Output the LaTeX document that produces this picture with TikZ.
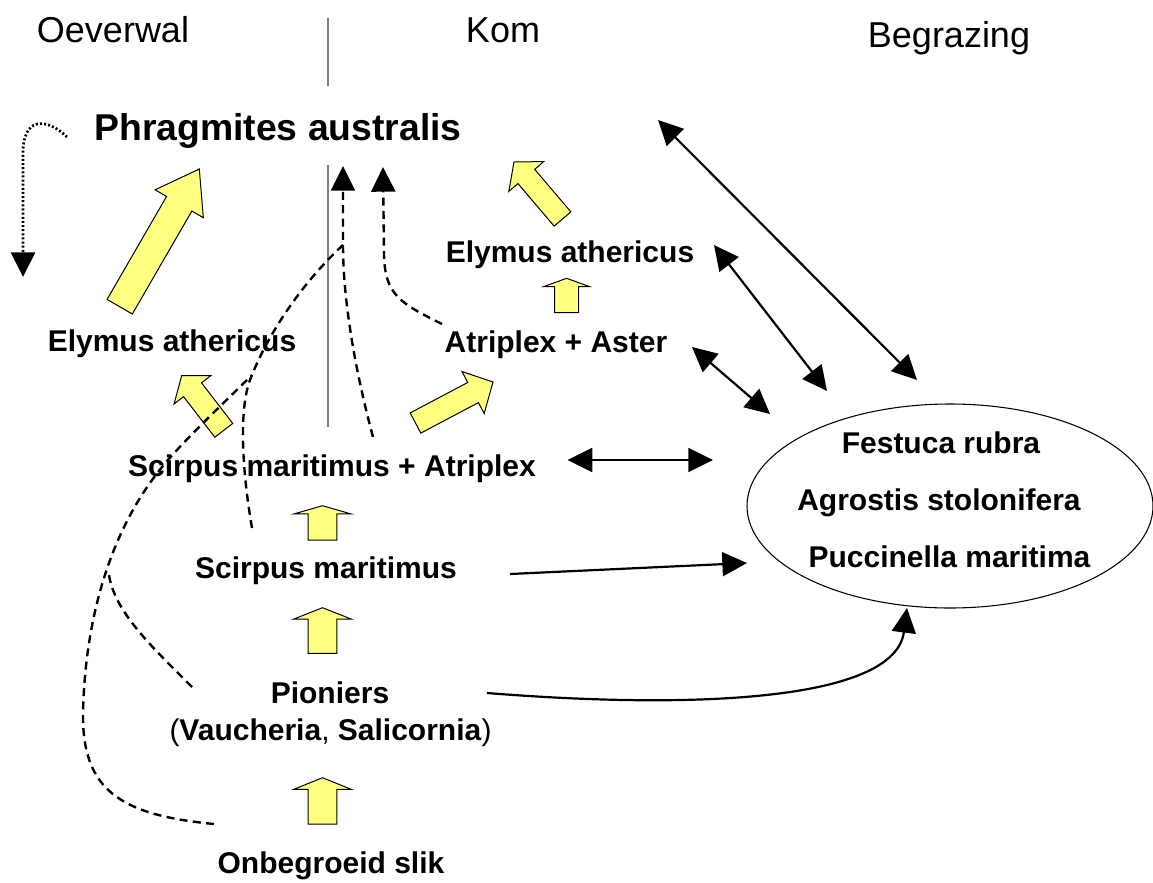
\documentclass[tikz,border=0pt]{standalone}
\usepackage{fontspec}
\setmainfont{Liberation Sans}
\usetikzlibrary{arrows.meta,calc,shapes.geometric}
\definecolor{yfill}{RGB}{255,255,128}
\definecolor{divgray}{RGB}{128,128,128}
\tikzset{
  hdr/.style={font=\fontsize{27pt}{32pt}\selectfont, inner sep=0pt, anchor=base},
  lbl/.style={font=\fontsize{22.5pt}{27pt}\selectfont\bfseries, inner sep=0pt, anchor=base},
  bigtitle/.style={font=\fontsize{28pt}{34pt}\selectfont\bfseries, inner sep=0pt, anchor=base},
  yblk/.style={draw=black, fill=yfill, line width=0.75pt, line join=miter},
  divider/.style={draw=divgray, line width=1.1pt},
  conn/.style={draw=black, line width=1.65pt},
  dconn/.style={conn, line width=1.8pt, dash pattern=on 6pt off 4pt},
  dotconn/.style={conn, line width=2pt, dash pattern=on 1.5pt off 1.6pt},
}
% block arrow: #1 tail, #2 tip, #3 half shaft, #4 half head, #5 head length
\newcommand{\yblock}[5]{%
  \coordinate (yb-h) at ($(#2)!#5!(#1)$);
  \draw[yblk] ($(#1)!#3!90:(#2)$) -- ($(yb-h)!#3!90:(#2)$) -- ($(yb-h)!#4!90:(#2)$)
    -- (#2) -- ($(yb-h)!#4!-90:(#2)$) -- ($(yb-h)!#3!-90:(#2)$) -- ($(#1)!#3!-90:(#2)$) -- cycle;
}
\begin{document}
\begin{tikzpicture}[x=0.75pt,y=-0.75pt,>={Triangle[length=18.5pt,width=18pt]}]
\useasboundingbox (0,0) rectangle (1153,882);
% headers and dividers
\node[hdr] (oever) at (113,42) {Oeverwal};
\node[hdr] (kom) at (503,42) {Kom};
\node[hdr] (begr) at (949,47) {Begrazing};
\coordinate (v1a) at (328,18); \coordinate (v1b) at (328,86);
\draw[divider] (v1a) -- (v1b);
\coordinate (v2a) at (328,165); \coordinate (v2b) at (328,427);
\draw[divider] (v2a) -- (v2b);
% labels
\node[bigtitle] (phrag) at (278,140) {Phragmites australis};
\node[lbl] (elyL) at (172,351) {Elymus athericus};
\node[lbl] (elyR) at (570,262) {Elymus athericus};
\node[lbl] (atrAst) at (556,352) {Atriplex + Aster};
\node[lbl] (scAtr) at (332,476) {Scirpus maritimus + Atriplex};
\node[lbl] (scir) at (326,578) {Scirpus maritimus};
\node[lbl] (pion) at (330,703) {Pioniers};
\node[lbl, font=\fontsize{22.5pt}{27pt}\selectfont] (pion2) at (330.5,740) {(\textbf{Vaucheria}, \textbf{Salicornia})};
\node[lbl] (onb) at (331,873) {Onbegroeid slik};
\node[draw, ellipse, line width=0.8pt, minimum width=304.5pt, minimum height=153pt, inner sep=0pt] (grass) at (950,506) {};
\node[lbl] (fest) at (941,453) {Festuca rubra};
\node[lbl] (agro) at (939,510) {Agrostis stolonifera};
\node[lbl] (pucc) at (949.5,567) {Puccinella maritima};
% yellow block arrows
\coordinate (y1t) at (119.7,306.7); \coordinate (y1h) at (199.3,169);
\yblock{y1t}{y1h}{10.95pt}{20.9pt}{30.1pt}
\coordinate (y2t) at (223.8,430.3); \coordinate (y2h) at (181.7,375.7);
\yblock{y2t}{y2h}{8.5pt}{17.5pt}{13.3pt}
\coordinate (y3t) at (415.5,423); \coordinate (y3h) at (493,382);
\yblock{y3t}{y3h}{8.55pt}{17.8pt}{16.9pt}
\coordinate (y4t) at (562.5,219); \coordinate (y4h) at (514,162);
\yblock{y4t}{y4h}{8.25pt}{17.25pt}{14.25pt}
\coordinate (y5t) at (566.6,312.7); \coordinate (y5h) at (566.6,278.3);
\yblock{y5t}{y5h}{9pt}{17.4pt}{6.3pt}
\coordinate (y6t) at (322.5,540); \coordinate (y6h) at (322.5,505.7);
\yblock{y6t}{y6h}{10.7pt}{21.5pt}{6.2pt}
\coordinate (y7t) at (322.5,653.3); \coordinate (y7h) at (322.5,607.7);
\yblock{y7t}{y7h}{10.7pt}{21.5pt}{8.5pt}
\coordinate (y8t) at (322.5,824); \coordinate (y8h) at (322.5,777.7);
\yblock{y8t}{y8h}{10.7pt}{21.5pt}{8.7pt}
% dotted self arrow
\coordinate (dotA) at (67,137); \coordinate (dotB) at (23,277);
\draw[dotconn,->] (dotA) .. controls (52,122) and (25,112) .. (23,150) -- (dotB);
% dashed arrows to Phragmites
\coordinate (d1s) at (373,437); \coordinate (d1m) at (343,245); \coordinate (d1e) at (343,166);
\draw[dconn,->] (d1s) .. controls (355,370) and (343,300) .. (d1m) -- (d1e);
\coordinate (d2s) at (442,324); \coordinate (d2e) at (383,167);
\draw[dconn,->] (d2s) .. controls (400,303) and (385,295) .. (384,255) -- (d2e);
\coordinate (mergeA) at (252,375);
\coordinate (l3s) at (252,528);
\draw[dconn] (l3s) .. controls (242,470) and (238,405) .. (mergeA) .. controls (268,335) and (300,285) .. (d1m);
\coordinate (l1s) at (214,824);
\draw[dconn] (l1s) .. controls (120,815) and (82,790) .. (83,713) .. controls (85,620) and (110,520) .. (177,450) .. controls (200,425) and (230,397) .. (mergeA);
\coordinate (l2s) at (192,687); \coordinate (l2e) at (109,575);
\draw[dconn] (l2s) .. controls (150,645) and (115,612) .. (l2e);
% solid connectors to the grassland ellipse
\coordinate (a1a) at (658,120); \coordinate (a1b) at (917,380);
\draw[conn,<->] (a1a) -- (a1b);
\coordinate (a2a) at (714,245); \coordinate (a2b) at (827,391);
\draw[conn,<->] (a2a) -- (a2b);
\coordinate (a3a) at (692,347); \coordinate (a3b) at (770,414);
\draw[conn,<->] (a3a) -- (a3b);
\coordinate (a4a) at (567.6,460); \coordinate (a4b) at (713,460);
\draw[conn,<->] (a4a) -- (a4b);
\coordinate (a5a) at (510,574); \coordinate (a5b) at (747,563);
\draw[conn,->] (a5a) -- (a5b);
\coordinate (a6a) at (487,693); \coordinate (a6b) at (907,608);
\draw[conn,->] (a6a) .. controls (700,710) and (895,700) .. (a6b);
\end{tikzpicture}
\end{document}
